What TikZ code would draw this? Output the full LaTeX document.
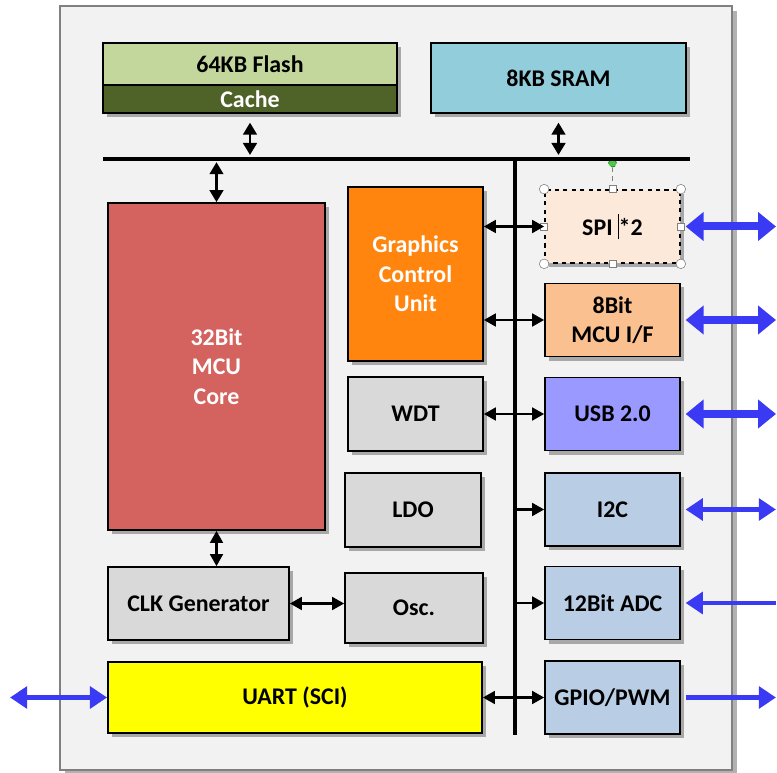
\documentclass[tikz,border=0pt]{standalone}
\usepackage{fontspec}
\setmainfont{Carlito}
\usetikzlibrary{arrows.meta, shadows}
\definecolor{chipcolor}{RGB}{242, 242, 242}
\definecolor{flashcolor}{RGB}{195, 214, 155}
\definecolor{cachecolor}{RGB}{79, 98, 40}
\definecolor{sramcolor}{RGB}{146, 205, 220}
\definecolor{corecolor}{RGB}{212, 98, 94}
\definecolor{gcucolor}{RGB}{255, 133, 15}
\definecolor{spicolor}{RGB}{253, 233, 217}
\definecolor{mcuifcolor}{RGB}{250, 192, 144}
\definecolor{usbcolor}{RGB}{153, 153, 255}
\definecolor{periphcolor}{RGB}{185, 205, 229}
\definecolor{misccolor}{RGB}{217, 217, 217}
\definecolor{uartcolor}{RGB}{255, 255, 0}
\definecolor{iocolor}{RGB}{58, 58, 245}

\begin{document}
\begin{tikzpicture}[x=0.025cm, y=-0.025cm,
    block/.style={rectangle, draw=black, line width=1.2pt, fill=#1,
                  inner sep=0pt, align=center, font=\fontsize{17}{21}\selectfont\bfseries,
                  drop shadow={shadow xshift=0.1cm, shadow yshift=-0.1cm, opacity=0.3, fill=black}},
    side/.style={block=#1, minimum width=3.375cm, minimum height=1.825cm},
    bus/.style={line width=3.5pt, line cap=butt},
    link/.style={{Triangle[length=0.3cm,width=0.32cm]}-{Triangle[length=0.3cm,width=0.32cm]}, line width=1.7pt},
    feed/.style={-{Triangle[length=0.3cm,width=0.32cm]}, line width=1.7pt},
    vlink/.style={{Triangle[length=0.3cm,width=0.34cm]}-{Triangle[length=0.3cm,width=0.34cm]}, line width=1.8pt},
    bighead/.tip={Triangle[length=0.45cm,width=0.7cm]},
    smallhead/.tip={Triangle[length=0.43cm,width=0.54cm]},
    io/.style={bighead-bighead, line width=0.2cm, draw=iocolor},
    thinio/.style={line width=0.12cm, draw=iocolor}
]
\useasboundingbox (0,0) rectangle (777,773);

% Chip outline
\node[rectangle, draw=gray, line width=1.2pt, fill=chipcolor, minimum width=16.8cm, minimum height=19.1cm,
      drop shadow={shadow xshift=0.12cm, shadow yshift=-0.12cm, opacity=0.3, fill=black}] (chip) at (396,388) {};

% Memories
\node[block=flashcolor, minimum width=7.35cm, minimum height=1.05cm] (flash) at (250,64) {64KB Flash};
\node[block=cachecolor, minimum width=7.35cm, minimum height=0.7cm, text=white] (cache) at (250,99) {Cache};
\node[block=sramcolor, minimum width=6.375cm, minimum height=1.75cm] (sram) at (558.5,78) {8KB SRAM};

% Left column
\node[block=corecolor, minimum width=5.425cm, minimum height=8.175cm, text=white] (core) at (216.5,366.5) {32Bit\\MCU\\Core};
\node[block=misccolor, minimum width=4.525cm, minimum height=1.825cm] (clk) at (198.5,603.5) {CLK Generator};
\node[block=uartcolor, minimum width=9.35cm, minimum height=1.775cm] (uart) at (295,697.5) {UART (SCI)};

% Middle column
\node[block=gcucolor, minimum width=3.375cm, minimum height=4.35cm, text=white] (gcu) at (415.5,274) {Graphics\\Control\\Unit};
\node[block=misccolor, minimum width=3.375cm, minimum height=1.85cm] (wdt) at (415.5,414) {WDT};
\node[block=misccolor, minimum width=3.4cm, minimum height=1.85cm] (ldo) at (413,510) {LDO};
\node[block=misccolor, minimum width=3.45cm, minimum height=1.75cm] (osc) at (414,608) {Osc.};

% Right column - peripherals
\node[side=spicolor, dashed] (spi) at (612.5,226.5) {SPI\ \rule[-0.15em]{0.5pt}{1.05em}*2};
\node[side=mcuifcolor] (mcuif) at (612.5,320) {8Bit\\MCU I/F};
\node[side=usbcolor] (usb) at (612.5,414) {USB 2.0};
\node[side=periphcolor] (i2c) at (612.5,509.5) {I2C};
\node[side=periphcolor] (adc) at (612.5,603) {12Bit ADC};
\node[side=periphcolor] (gpio) at (612.5,697.5) {GPIO/PWM};

% Selection handles on SPI
\draw[gray, dashed, thin] (spi.north) -- ++(0,-26) node[circle, fill=green!70!black!70, draw=green!40!black, inner sep=0pt, minimum size=0.2cm] (rot) {};
\foreach \a in {north west, north east, south west, south east}
    \node[circle, draw=gray, fill=white, inner sep=0pt, minimum size=0.24cm] at (spi.\a) {};
\foreach \a in {north, south, west, east}
    \node[rectangle, draw=gray, fill=white, inner sep=0pt, minimum size=0.17cm] at (spi.\a) {};

% Buses
\coordinate (busL) at (103,159);
\coordinate (busR) at (690,159);
\coordinate (busT) at (515,159);
\coordinate (busB) at (515,735);
\coordinate (edge) at (776,0);
\coordinate (uartout) at (10,0);
\draw[bus] (busL) -- (busR);
\draw[bus] (busT) -- (busB);

% Connections
\draw[vlink, shorten >=0.1cm] ([yshift=-0.22cm]cache.south) -- (cache.south |- busL);
\draw[vlink, shorten >=0.1cm] ([yshift=-0.22cm]sram.south) -- (sram.south |- busL);
\draw[vlink, shorten <=0.08cm] (core.north |- busL) -- (core.north);
\draw[link] (core.south) -- (core.south |- clk.north);
\draw[link] (clk.east) -- (clk.east -| osc.west);
\draw[link] (spi.west -| gcu.east) -- (spi.west);
\draw[link] (mcuif.west -| gcu.east) -- (mcuif.west);
\draw[link] (usb.west -| wdt.east) -- (usb.west);
\draw[feed] (i2c.west -| busT) -- (i2c.west);
\draw[feed] (adc.west -| busT) -- (adc.west);
\draw[link] (uart.east) -- (gpio.west);

% External I/O
\draw[io] ([xshift=0.12cm]spi.east) -- (spi.east -| edge);
\draw[io] ([xshift=0.12cm]mcuif.east) -- (mcuif.east -| edge);
\draw[io] ([xshift=0.12cm]usb.east) -- (usb.east -| edge);
\draw[thinio, smallhead-smallhead] ([xshift=0.12cm]i2c.east) -- (i2c.east -| edge);
\draw[thinio, smallhead-] ([xshift=0.12cm]adc.east) -- (adc.east -| edge);
\draw[thinio, -smallhead] ([xshift=0.12cm]gpio.east) -- (gpio.east -| edge);
\draw[thinio, line width=0.14cm, smallhead-smallhead] (uart.west -| uartout) -- (uart.west);

\end{tikzpicture}
\end{document}
